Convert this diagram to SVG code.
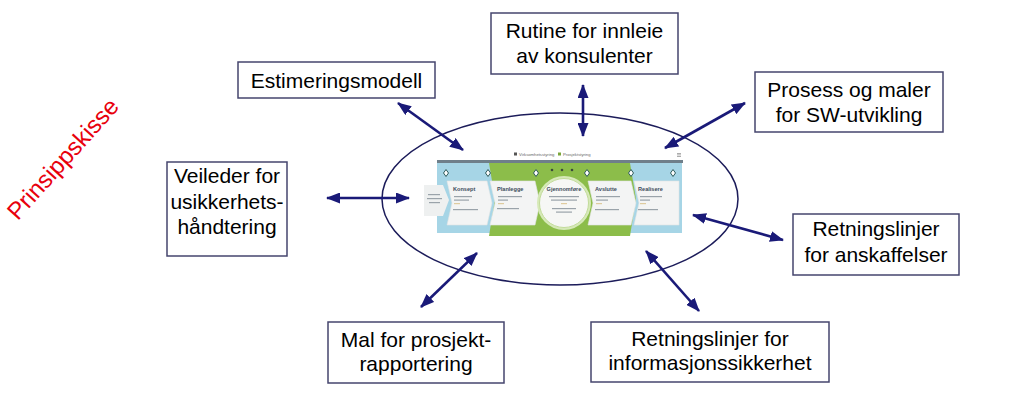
<svg xmlns="http://www.w3.org/2000/svg" width="1024" height="402" viewBox="0 0 1024 402">
<style>
.box rect{fill:#fff;stroke:#45456e;stroke-width:1.5}
.box text{font-family:"Liberation Sans",Arial,sans-serif;font-size:21px;fill:#000;text-anchor:middle}
.conn line{stroke:#1a1a78;stroke-width:2.6;marker-start:url(#ah);marker-end:url(#ah)}
.ttl{font-family:"Liberation Sans",Arial,sans-serif;font-size:5.6px;font-weight:bold;fill:#3d4d5c}
.leg{font-family:"Liberation Sans",Arial,sans-serif;font-size:4.2px;fill:#666}
.ln{fill:#9aa3aa}
.chev{fill:#f3f4f4;stroke:#e2e4e4;stroke-width:0.6}
.dia{fill:#fff;stroke:#2e5a5a;stroke-width:1}
</style>
<defs>
<marker id="ah" markerUnits="userSpaceOnUse" markerWidth="14" markerHeight="11" viewBox="0 0 14 11" refX="13" refY="5.5" orient="auto-start-reverse">
<path d="M0,0 L14,5.5 L0,11 z" fill="#1a1a78"/>
</marker>
</defs>
<rect width="1024" height="402" fill="#fff"/>

<text x="0" y="8" transform="translate(63,159) rotate(-48)" font-family="Liberation Sans,Arial,sans-serif" font-size="24" fill="#e8000c" text-anchor="middle">Prinsippskisse</text>

<ellipse id="scope" cx="560" cy="199" rx="178" ry="86" fill="none" stroke="#1c1c5a" stroke-width="1.5"/>

<g id="process-image">
<rect x="514" y="152.5" width="3" height="3" fill="#555"/>
<text class="leg" x="519" y="155.6">Virksomhetsstyring</text>
<rect x="558" y="152.5" width="3" height="3" fill="#7aa63a"/>
<text class="leg" x="563" y="155.6">Prosjektstyring</text>
<rect x="677" y="153" width="4" height="0.8" fill="#999"/>
<rect x="677" y="154.5" width="4" height="0.8" fill="#999"/>
<rect x="677" y="156" width="4" height="0.8" fill="#999"/>
<rect x="437" y="160" width="246" height="3" fill="#6f7f8a"/>
<rect x="437" y="163" width="60" height="70" fill="#a6d5e6"/>
<polygon points="620,163 682,163 682,233 620,233" fill="#a6d5e6"/>
<polygon points="489,163 630,163 636,199 630,236 489,236 495,199" fill="#8cbd4a"/>
<polygon points="424,185 443,185 449,200 443,216 424,216" fill="#eef0f0"/>
<rect class="ln" x="428" y="194" width="12" height="1.2"/>
<rect class="ln" x="427" y="198" width="15" height="1.2"/>
<rect class="ln" x="429" y="202" width="11" height="1.2"/>
<polygon class="chev" points="447,181 487,181 492,203 487,225 447,225 452,203"/>
<polygon class="chev" points="490,181 535,181 540,203 535,225 490,225 495,203"/>
<polygon class="chev" points="588,181 631,181 636,203 631,225 588,225 593,203"/>
<polygon class="chev" points="634,181 679,181 679,225 634,225 639,203"/>
<circle cx="564" cy="203" r="27" fill="#d6e9b8"/>
<circle cx="564" cy="203" r="24.5" fill="#f6f7f5" stroke="#c2dc9a" stroke-width="1"/>
<g class="dia">
<path d="M446,169.5 L448.5,173 L446,176.5 L443.5,173 z"/>
<path d="M488,169.5 L490.5,173 L488,176.5 L485.5,173 z"/>
<path d="M536,169.5 L538.5,173 L536,176.5 L533.5,173 z"/>
<path d="M587,169.5 L589.5,173 L587,176.5 L584.5,173 z"/>
<path d="M631,169.5 L633.5,173 L631,176.5 L628.5,173 z"/>
<path d="M673,169.5 L675.5,173 L673,176.5 L670.5,173 z"/>
</g>
<circle cx="552" cy="170" r="1.3" fill="#3b4a3b"/>
<circle cx="562" cy="170" r="1.3" fill="#3b4a3b"/>
<circle cx="572" cy="170" r="1.3" fill="#3b4a3b"/>
<text class="ttl" x="453" y="191">Konsept</text>
<text class="ttl" x="497" y="191">Planlegge</text>
<text class="ttl" x="564" y="191" text-anchor="middle">Gjennomføre</text>
<text class="ttl" x="595" y="191">Avslutte</text>
<text class="ttl" x="638" y="191">Realisere</text>
<rect class="ln" x="454" y="196" width="18" height="1.2"/>
<rect class="ln" x="454" y="199.5" width="15" height="1.2"/>
<rect x="454" y="203.5" width="6" height="0.6" fill="#c9a24a"/>
<rect class="ln" x="453" y="209" width="25" height="1.2"/>
<rect class="ln" x="498" y="196" width="24" height="1.2"/>
<rect class="ln" x="498" y="199.5" width="10" height="1.2"/>
<rect x="498" y="203.5" width="6" height="0.6" fill="#c9a24a"/>
<rect class="ln" x="497" y="208" width="22" height="1.2"/>
<rect class="ln" x="549" y="196" width="30" height="1.2"/>
<rect class="ln" x="551" y="199.5" width="26" height="1.2"/>
<rect x="561" y="203.5" width="6" height="0.6" fill="#c9a24a"/>
<rect class="ln" x="552" y="208" width="24" height="1.2"/>
<rect class="ln" x="556" y="211.5" width="16" height="1.2"/>
<rect class="ln" x="596" y="196" width="24" height="1.2"/>
<rect class="ln" x="596" y="199.5" width="12" height="1.2"/>
<rect x="596" y="203.5" width="6" height="0.6" fill="#c9a24a"/>
<rect class="ln" x="595" y="209" width="24" height="1.2"/>
<rect class="ln" x="640" y="196" width="22" height="1.2"/>
<rect class="ln" x="640" y="199.5" width="10" height="1.2"/>
<rect x="640" y="203.5" width="6" height="0.6" fill="#c9a24a"/>
<rect class="ln" x="638" y="209" width="20" height="1.2"/>
</g>

<g id="connectors" class="conn">
<line x1="398" y1="103" x2="463" y2="150"/>
<line x1="583" y1="85" x2="583" y2="136"/>
<line x1="745" y1="103" x2="665" y2="148"/>
<line x1="327" y1="198" x2="409" y2="198"/>
<line x1="693" y1="215" x2="783" y2="240"/>
<line x1="477" y1="253" x2="421" y2="307"/>
<line x1="646" y1="251" x2="699" y2="311"/>
</g>

<g id="estimeringsmodell" class="box">
<rect x="238" y="62" width="197" height="36"/>
<text x="336.5" y="88">Estimeringsmodell</text>
</g>
<g id="rutine-innleie" class="box">
<rect x="491" y="13" width="187" height="61"/>
<text x="584.5" y="38">Rutine for innleie</text>
<text x="584.5" y="63">av konsulenter</text>
</g>
<g id="prosess-maler" class="box">
<rect x="755" y="72" width="188" height="60"/>
<text x="849" y="97">Prosess og maler</text>
<text x="849" y="122">for SW-utvikling</text>
</g>
<g id="veileder" class="box">
<rect x="167" y="162" width="120" height="94"/>
<text x="227" y="183">Veileder for</text>
<text x="227" y="208.5">usikkerhets-</text>
<text x="227" y="234">håndtering</text>
</g>
<g id="anskaffelser" class="box">
<rect x="793" y="214" width="166" height="61"/>
<text x="876" y="236">Retningslinjer</text>
<text x="876" y="262">for anskaffelser</text>
</g>
<g id="prosjektrapportering" class="box">
<rect x="328" y="322" width="176" height="61"/>
<text x="416" y="347">Mal for prosjekt-</text>
<text x="416" y="371">rapportering</text>
</g>
<g id="informasjonssikkerhet" class="box">
<rect x="591" y="322" width="238" height="60"/>
<text x="710" y="346">Retningslinjer for</text>
<text x="710" y="370">informasjonssikkerhet</text>
</g>
</svg>
